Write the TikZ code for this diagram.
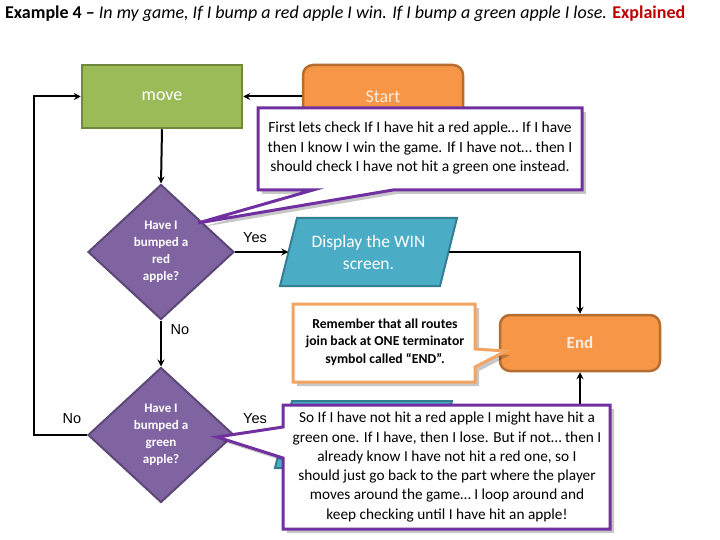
\documentclass[tikz,border=0pt]{standalone}
\usepackage{fontspec}
\setmainfont{Carlito}
\newfontfamily\arialf{Liberation Sans}
\usetikzlibrary{shapes.geometric,arrows.meta}
\definecolor{grnF}{HTML}{9BBB59}
\definecolor{grnD}{HTML}{71893F}
\definecolor{orgF}{HTML}{F79646}
\definecolor{orgD}{HTML}{B66D31}
\definecolor{purF}{HTML}{8064A2}
\definecolor{purD}{HTML}{5C4776}
\definecolor{bluF}{HTML}{4BACC6}
\definecolor{bluD}{HTML}{357D91}
\definecolor{callP}{HTML}{7030A0}
\definecolor{callO}{HTML}{F3A463}
\definecolor{titleRed}{HTML}{C00000}
\definecolor{startTxt}{HTML}{FDEADA}
\begin{document}
\begin{tikzpicture}[x=1pt,y=-1pt,
  arr/.style={line width=2pt, -{Stealth[length=7pt,width=7pt,inset=2.5pt]}},
  procbox/.style={rectangle, draw=grnD, fill=grnF, line width=2.5pt, minimum width=160pt, minimum height=63pt, inner sep=0pt, text=white, font=\fontsize{18}{21}\selectfont},
  termbox/.style={rectangle, rounded corners=10pt, draw=orgD, fill=orgF, line width=2.5pt, minimum width=160pt, inner sep=0pt, text=startTxt},
  decbox/.style={diamond, draw=purD, fill=purF, line width=2pt, minimum width=146pt, minimum height=135pt, inner sep=0pt, align=center, text=white, font=\bfseries\fontsize{13}{17}\selectfont},
  iobox/.style={draw=bluD, fill=bluF, line width=2pt},
  iolabel/.style={minimum width=160pt, minimum height=68pt, inner sep=0pt, align=center, text=white, font=\fontsize{17.5}{22}\selectfont},
  lbl/.style={font=\arialf\fontsize{14.5}{16}\selectfont, inner sep=0pt},
  callpur/.style={draw=callP, fill=white, line width=3pt, line join=miter},
  callorg/.style={draw=callO, fill=white, line width=3pt, line join=miter},
  shadowfill/.style={fill=black, opacity=0.22},
  calltext/.style={align=center, inner sep=0pt, font=\fontsize{15.5}{19.5}\selectfont}
]
\useasboundingbox (0,0) rectangle (720,540);

% title
\node[anchor=west, inner sep=0pt, font=\fontsize{18}{21}\selectfont] (title) at (5,14)
  {\textbf{Example 4 –} \textit{In my game, If I bump a red apple I win. If I bump a green apple I lose.} \textcolor{titleRed}{\textbf{Explained}}};

% main nodes
\node[procbox] (move) at (162,96.5) {move};
\node[termbox, minimum height=63pt, font=\fontsize{18}{21}\selectfont] (start) at (383,96.5) {Start};
\node[decbox] (d1) at (161,252) {Have I\\bumped a\\red\\apple?};
\node[decbox] (d2) at (161,435) {Have I\\bumped a\\green\\apple?};

\draw[iobox] (297,218) -- (457,218) -- (440,286) -- (280,286) -- cycle;
\node[iolabel] (win) at (368.5,252) {Display the WIN\\screen.};

\node[termbox, minimum height=56pt, font=\bfseries\fontsize{17}{20}\selectfont] (end) at (580,343) {End};

\draw[iobox] (292,401) -- (452,401) -- (435,468) -- (275,468) -- cycle;
\node[minimum width=160pt, minimum height=67pt, inner sep=0pt] (lose) at (363.5,434.5) {};

% connectors
\draw[arr] (start.west) -- (move.east);
\draw[arr] (move.south) -- (d1.north);
\draw[arr] (d1.east) -- (win.west);
\draw[arr] (d1.south) -- (d2.north);
\draw[arr] (win.east) -| (end.north);
\draw[arr] (d2.west) -- ++(-53,0) |- (move.west);
\draw[arr] (lose.east) -| (end.south);
\draw[arr] (d2.east) -- (lose.west);

% labels
\node[lbl] (yes1) at (255,238) {Yes};
\node[lbl] (no1) at (180,330) {No};
\node[lbl] (no2) at (72,419) {No};
\node[lbl] (yes2) at (255,419) {Yes};

% callout 1
\fill[shadowfill] (262,112) -- (586,112) -- (586,194) -- (397,194) -- (202,227) -- (317,194) -- (262,194) -- cycle;
\draw[callpur] (258,108) -- (582,108) -- (582,190) -- (393,190) -- (198,223) -- (313,190) -- (258,190) -- cycle;
\node[calltext] (c1) at (420,148) {First lets check If I have hit a red apple… If I have\\then I know I win the game. If I have not… then I\\should check I have not hit a green one instead.};

% callout 2
\fill[shadowfill] (297,308) -- (479,308) -- (479,353) -- (510,355) -- (479,371) -- (479,386) -- (297,386) -- cycle;
\draw[callorg] (293,304) -- (475,304) -- (475,349) -- (506,351) -- (475,367) -- (475,382) -- (293,382) -- cycle;
\node[calltext, font=\bfseries\fontsize{13.7}{17.5}\selectfont] (c2) at (385,342) {Remember that all routes\\join back at ONE terminator\\symbol called “END”.};

% callout 3
\fill[shadowfill] (287,409) -- (614,409) -- (614,533) -- (287,533) -- (287,462) -- (221,441) -- (287,431) -- cycle;
\draw[callpur] (283,405) -- (610,405) -- (610,529) -- (283,529) -- (283,458) -- (217,437) -- (283,427) -- cycle;
\node[calltext, font=\fontsize{15.3}{19.3}\selectfont] (c3) at (447,467) {So If I have not hit a red apple I might have hit a\\green one. If I have, then I lose. But if not… then I\\already know I have not hit a red one, so I\\should just go back to the part where the player\\moves around the game… I loop around and\\keep checking until I have hit an apple!};
\end{tikzpicture}
\end{document}
